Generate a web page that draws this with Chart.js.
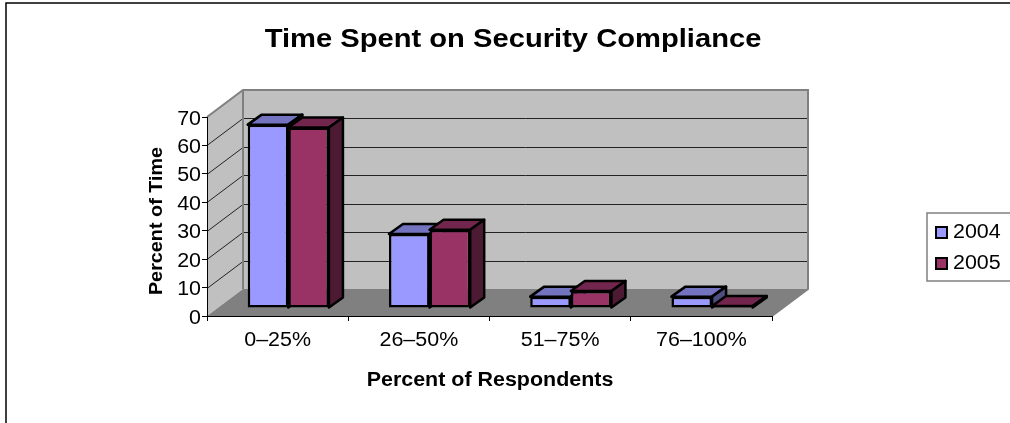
<!DOCTYPE html>
<html>
<head>
<meta charset="utf-8">
<script src="https://cdn.jsdelivr.net/npm/chart.js@4.4.1/dist/chart.umd.min.js"></script>
<style>
  body { margin: 0; background: #fff; }
  canvas { display: block; }
</style>
</head>
<body>
<canvas id="chart" width="1010" height="423"></canvas>
<script>
// chart data
const categories = ['0–25%', '26–50%', '51–75%', '76–100%'];
const values2004 = [64.5, 26, 4, 4];
const values2005 = [63.5, 27.5, 6, 0.7];
const seriesNames = ['2004', '2005'];
const yTicks = [0, 10, 20, 30, 40, 50, 60, 70];

const FONT = "'Liberation Sans', Arial, sans-serif";
const STRETCH = 1.1; // the original text is a bit wider than Arial

// 3d look: wall depth and bar depth
const wallDx = 36, wallDy = -27;
const barShiftX = 10.7, barShiftY = -8;
const barDx = 14, barDy = -10;

const faceColors = [
    { top: '#7373BF', side: '#4D4D80' },
    { top: '#73264D', side: '#4D1A33' }
];

// draws text a little wider, like the original
function wideText(ctx, text, x, y, align, angle) {
    ctx.save();
    ctx.translate(x, y);
    if (angle) ctx.rotate(angle);
    ctx.scale(STRETCH, 1);
    ctx.textAlign = align;
    ctx.textBaseline = 'alphabetic';
    ctx.fillText(text, 0, 0);
    ctx.restore();
}

const chart3d = {
    id: 'chart3d',
    beforeDraw(chart) {
        const ctx = chart.ctx;
        const x = chart.scales.x, y = chart.scales.y;
        const L = x.left, R = x.right, B = y.bottom, T = y.top;

        ctx.save();
        ctx.fillStyle = '#fff';
        ctx.fillRect(0, 0, chart.width, chart.height);

        // outer frame
        ctx.strokeStyle = '#000';
        ctx.lineWidth = 1.5;
        ctx.beginPath();
        ctx.moveTo(6, 423);
        ctx.lineTo(6, 3);
        ctx.lineTo(1010, 3);
        ctx.stroke();

        // back wall
        ctx.fillStyle = '#C0C0C0';
        ctx.fillRect(L + wallDx, T + wallDy, R - L, B - T);
        // side wall
        ctx.beginPath();
        ctx.moveTo(L, B);
        ctx.lineTo(L, T);
        ctx.lineTo(L + wallDx, T + wallDy);
        ctx.lineTo(L + wallDx, B + wallDy);
        ctx.closePath();
        ctx.fill();
        // floor
        ctx.fillStyle = '#808080';
        ctx.beginPath();
        ctx.moveTo(L, B);
        ctx.lineTo(R, B);
        ctx.lineTo(R + wallDx, B + wallDy);
        ctx.lineTo(L + wallDx, B + wallDy);
        ctx.closePath();
        ctx.fill();

        // gridlines on back and side wall
        ctx.strokeStyle = '#222';
        ctx.lineWidth = 1;
        yTicks.forEach(v => {
            if (v === 0 || v === 70) return;
            const py = Math.round(y.getPixelForValue(v)) + 0.5;
            ctx.beginPath();
            ctx.moveTo(L, py);
            ctx.lineTo(L + wallDx, py + wallDy);
            ctx.lineTo(R + wallDx, py + wallDy);
            ctx.stroke();
        });

        // wall edges
        ctx.strokeStyle = '#808080';
        ctx.lineWidth = 2;
        ctx.beginPath();
        ctx.moveTo(L, T);
        ctx.lineTo(L + wallDx, T + wallDy);
        ctx.lineTo(R + wallDx, T + wallDy);
        ctx.lineTo(R + wallDx, B + wallDy);
        ctx.lineTo(R, B);
        ctx.moveTo(L + wallDx, T + wallDy);
        ctx.lineTo(L + wallDx, B + wallDy);
        ctx.stroke();
        ctx.restore();
    },
    // skip the normal flat drawing, the bars are drawn below
    beforeDatasetDraw() {
        return false;
    },
    // front face from the library's bar element, then top and side,
    // series by series so the 2005 bar covers the side of the 2004 bar
    afterDatasetsDraw(chart) {
        const ctx = chart.ctx;
        ctx.save();
        ctx.translate(barShiftX, barShiftY);
        chart.data.datasets.forEach((ds, di) => {
            const c = faceColors[di];
            chart.getDatasetMeta(di).data.forEach(bar => {
                bar.draw(ctx);
                const p = bar.getProps(['x', 'y', 'base', 'width'], true);
                const l = p.x - p.width / 2, r = p.x + p.width / 2;
                const t = p.y, b = p.base;
                ctx.save();
                ctx.lineWidth = 2.5;
                ctx.lineJoin = 'round';
                ctx.strokeStyle = '#000';
                ctx.fillStyle = c.top;
                ctx.beginPath();
                ctx.moveTo(l, t);
                ctx.lineTo(l + barDx, t + barDy);
                ctx.lineTo(r + barDx, t + barDy);
                ctx.lineTo(r, t);
                ctx.closePath();
                ctx.fill();
                ctx.stroke();
                ctx.fillStyle = c.side;
                ctx.beginPath();
                ctx.moveTo(r, t);
                ctx.lineTo(r + barDx, t + barDy);
                ctx.lineTo(r + barDx, b + barDy);
                ctx.lineTo(r, b);
                ctx.closePath();
                ctx.fill();
                ctx.stroke();
                ctx.restore();
            });
        });
        ctx.restore();
    },
    afterDraw(chart) {
        const ctx = chart.ctx;
        const x = chart.scales.x, y = chart.scales.y;
        ctx.save();
        ctx.fillStyle = '#000';

        ctx.font = 'bold 26.5px ' + FONT;
        wideText(ctx, 'Time Spent on Security Compliance', 513, 47, 'center');

        // tick labels
        ctx.font = '19.5px ' + FONT;
        x.getLabels().forEach((lab, i) => {
            wideText(ctx, lab, x.getPixelForValue(i), 346, 'center');
        });
        yTicks.forEach(v => {
            wideText(ctx, String(v), 201, y.getPixelForValue(v) + 7.5, 'right');
        });

        ctx.font = 'bold 19.5px ' + FONT;
        wideText(ctx, 'Percent of Respondents', 490, 386, 'center');

        ctx.font = 'bold 18px ' + FONT;
        wideText(ctx, 'Percent of Time', 162, 221, 'center', -Math.PI / 2);

        // legend
        ctx.strokeStyle = '#808080';
        ctx.lineWidth = 1.5;
        ctx.beginPath();
        ctx.moveTo(1012, 213);
        ctx.lineTo(927, 213);
        ctx.lineTo(927, 281);
        ctx.lineTo(1012, 281);
        ctx.stroke();

        ctx.font = '19.5px ' + FONT;
        chart.data.datasets.forEach((ds, i) => {
            const sy = 227 + i * 31;
            ctx.fillStyle = ds.backgroundColor;
            ctx.fillRect(936, sy, 11, 11);
            ctx.strokeStyle = '#000';
            ctx.lineWidth = 2;
            ctx.strokeRect(936, sy, 11, 11);
            ctx.fillStyle = '#000';
            wideText(ctx, ds.label, 953, sy + 10.5, 'left');
        });
        ctx.restore();
    }
};

new Chart(document.getElementById('chart'), {
    type: 'bar',
    data: {
        labels: categories,
        datasets: [
            {
                label: seriesNames[0],
                data: values2004,
                backgroundColor: '#9999FF',
                borderColor: '#000',
                borderWidth: 2.5,
                borderSkipped: false
            },
            {
                label: seriesNames[1],
                data: values2005,
                backgroundColor: '#993366',
                borderColor: '#000',
                borderWidth: 2.5,
                borderSkipped: false
            }
        ]
    },
    options: {
        responsive: false,
        animation: false,
        devicePixelRatio: 1,
        clip: false,
        categoryPercentage: 0.575,
        barPercentage: 1,
        layout: { padding: { left: 0, top: 117, right: 238, bottom: 0 } },
        plugins: {
            legend: { display: false },
            title: { display: false },
            tooltip: { enabled: false }
        },
        scales: {
            x: {
                afterFit(scale) { scale.height = 107; },
                grid: {
                    display: true,
                    offset: true,
                    drawOnChartArea: false,
                    tickLength: 5,
                    color: '#000'
                },
                border: { display: true, color: '#000', width: 1 },
                ticks: { display: false }
            },
            y: {
                min: 0,
                max: 70,
                afterFit(scale) { scale.width = 207; },
                afterBuildTicks(scale) { scale.ticks = yTicks.map(v => ({ value: v })); },
                grid: {
                    display: true,
                    drawOnChartArea: false,
                    tickLength: 5,
                    color: '#000'
                },
                border: { display: true, color: '#000', width: 1 },
                ticks: { display: false }
            }
        }
    },
    plugins: [chart3d]
});
</script>
</body>
</html>
